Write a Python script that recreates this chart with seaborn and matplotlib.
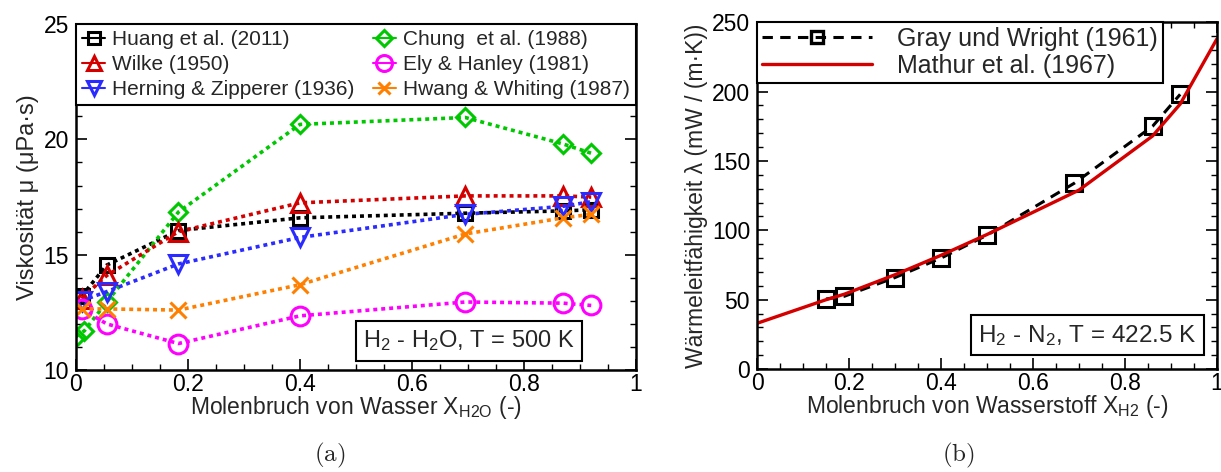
import numpy as np
import pandas as pd
import seaborn as sns
import matplotlib
matplotlib.use("Agg")
import matplotlib.pyplot as plt
from matplotlib.ticker import MultipleLocator
from matplotlib.lines import Line2D

# ---- viscosity of H2 - H2O at 500 K ----
x_h2o = [0.01, 0.055, 0.183, 0.4, 0.695, 0.87, 0.92]
mu_huang = [13.2, 14.55, 16.05, 16.6, 16.8, 16.9, 16.95]
mu_wilke = [13.1, 14.1, 16.0, 17.25, 17.55, 17.55, 17.5]
mu_herning = [13.0, 13.4, 14.6, 15.75, 16.75, 17.1, 17.3]
x_chung = [0.0, 0.015, 0.055, 0.183, 0.4, 0.695, 0.87, 0.92]
mu_chung = [11.45, 11.7, 12.95, 16.85, 20.65, 20.95, 19.8, 19.4]
mu_ely = [12.65, 12.0, 11.15, 12.35, 12.95, 12.9, 12.8]
mu_hwang = [12.65, 12.65, 12.6, 13.7, 15.9, 16.6, 16.75]

# ---- thermal conductivity of H2 - N2 at 422.5 K ----
x_gray = [0.15, 0.19, 0.3, 0.4, 0.5, 0.69, 0.86, 0.92]
lam_gray = [50.5, 52.5, 66.0, 80.0, 96.5, 134.0, 175.0, 198.0]
x_mathur = [0.0, 0.15, 0.19, 0.3, 0.4, 0.5, 0.7, 0.86, 0.92, 1.0]
lam_mathur = [33.0, 50.0, 54.0, 68.0, 82.0, 97.0, 129.0, 168.0, 191.0, 238.0]

sns.set_theme(style="ticks")
plt.rcParams["font.family"] = ["Liberation Sans", "DejaVu Sans"]
plt.rcParams["mathtext.fontset"] = "custom"
plt.rcParams["mathtext.rm"] = "Liberation Sans"
plt.rcParams["mathtext.it"] = "Liberation Sans:italic"
plt.rcParams["axes.linewidth"] = 1.8
plt.rcParams["axes.edgecolor"] = "black"

LABEL_FS = 16.5
TICK_FS = 16.5
BOX_FS = 17

fig = plt.figure(figsize=(12.21, 4.72), dpi=100)
ax1 = fig.add_axes([0.0622, 0.216, 0.4587, 0.733])
ax2 = fig.add_axes([0.620, 0.218, 0.3767, 0.735])

dot = (0, (1.1, 1.1))
series = [
    ("Huang et al. (2011)", x_h2o, mu_huang, "black", "s", 10.5),
    ("Chung  et al. (1988)", x_chung, mu_chung, "#00c800", "D", 9.5),
    ("Wilke (1950)", x_h2o, mu_wilke, "#d40000", "^", 12.5),
    ("Herning & Zipperer (1936)", x_h2o, mu_herning, "#2b2bff", "v", 12.5),
    ("Ely & Hanley (1981)", x_h2o, mu_ely, "#ff00ff", "o", 13.5),
    ("Hwang & Whiting (1987)", x_h2o, mu_hwang, "#ff8000", "x", 11),
]
handles = {}
for label, xs, ys, col, mk, ms in series:
    df = pd.DataFrame({"x": xs, "y": ys})
    sns.lineplot(data=df, x="x", y="y", ax=ax1, sort=False, color=col,
                 linestyle=dot, linewidth=2.6, marker=mk, markersize=ms,
                 markerfacecolor="none", markeredgecolor=col,
                 markeredgewidth=2.2)
    handles[label] = Line2D([], [], color=col, linestyle="-", linewidth=1.5,
                            marker=mk, markersize=ms * 0.85,
                            markerfacecolor="none", markeredgecolor=col,
                            markeredgewidth=2.2)

order = ["Huang et al. (2011)", "Wilke (1950)", "Herning & Zipperer (1936)",
         "Chung  et al. (1988)", "Ely & Hanley (1981)", "Hwang & Whiting (1987)"]
leg1 = ax1.legend([handles[k] for k in order], order, ncol=2,
                  loc="upper left", bbox_to_anchor=(0, 0, 1, 1), mode="expand",
                  borderaxespad=0, fontsize=15, handlelength=1.1,
                  handletextpad=0.35, labelspacing=0.28, columnspacing=0.8,
                  fancybox=False, framealpha=1, edgecolor="black",
                  borderpad=0.3)
leg1.get_frame().set_linewidth(1.5)

ax1.set_xlim(0, 1)
ax1.set_ylim(10, 25)
ax1.xaxis.set_minor_locator(MultipleLocator(0.05))
ax1.yaxis.set_major_locator(MultipleLocator(5))
ax1.yaxis.set_minor_locator(MultipleLocator(1))
ax1.set_xticks([0, 0.2, 0.4, 0.6, 0.8, 1.0])
ax1.set_xticklabels(["0", "0.2", "0.4", "0.6", "0.8", "1"])
ax1.set_xlabel(r"Molenbruch von Wasser X$_{\mathrm{H2O}}$ (-)", fontsize=LABEL_FS,
               labelpad=-1)
ax1.set_ylabel("Viskosität μ (μPa·s)", fontsize=LABEL_FS + 0.5, labelpad=3)
ax1.text(0.702, 0.084, r"H$_2$ - H$_2$O, T = 500 K", transform=ax1.transAxes,
         ha="center", va="center", fontsize=BOX_FS,
         bbox=dict(boxstyle="square,pad=0.3", fc="white", ec="black", lw=1.5))

# thermal conductivity panel
dash = (0, (3.4, 2.4))
df_g = pd.DataFrame({"x": x_gray, "y": lam_gray})
df_m = pd.DataFrame({"x": x_mathur, "y": lam_mathur})
sns.lineplot(data=df_g, x="x", y="y", ax=ax2, sort=False, color="black",
             linestyle=dash, linewidth=2.2, marker="s",
             markersize=11.5, markerfacecolor="none", markeredgecolor="black",
             markeredgewidth=2.2)
sns.lineplot(data=df_m, x="x", y="y", ax=ax2, sort=False, color="#d40000",
             linewidth=2.4)
h_gray = Line2D([], [], color="black", linestyle=dash, linewidth=2.2,
                marker="s", markersize=8, markerfacecolor="none",
                markeredgecolor="black", markeredgewidth=2.4)
h_math = Line2D([], [], color="#d40000", linewidth=2.4)
leg2 = ax2.legend([h_gray, h_math], ["Gray und Wright (1961)", "Mathur et al. (1967)"],
                  loc="upper left", borderaxespad=0, fontsize=18,
                  handlelength=4.4, handletextpad=1.0, labelspacing=0.1,
                  fancybox=False, framealpha=1, edgecolor="black",
                  borderpad=0.2)
leg2.get_frame().set_linewidth(1.5)

ax2.set_xlim(0, 1)
ax2.set_ylim(0, 250)
ax2.set_xticks([0, 0.2, 0.4, 0.6, 0.8, 1.0])
ax2.set_xticklabels(["0", "0.2", "0.4", "0.6", "0.8", "1"])
ax2.xaxis.set_minor_locator(MultipleLocator(0.05))
ax2.yaxis.set_major_locator(MultipleLocator(50))
ax2.yaxis.set_minor_locator(MultipleLocator(10))
ax2.set_xlabel(r"Molenbruch von Wasserstoff X$_{\mathrm{H2}}$ (-)", fontsize=LABEL_FS,
               labelpad=-1)
ax2.set_ylabel("Wärmeleitfähigkeit λ (mW / (m·K))", fontsize=LABEL_FS, labelpad=3)
ax2.text(0.718, 0.098, r"H$_2$ - N$_2$, T = 422.5 K", transform=ax2.transAxes,
         ha="center", va="center", fontsize=BOX_FS + 0.5,
         bbox=dict(boxstyle="square,pad=0.3", fc="white", ec="black", lw=1.5))

for ax in (ax1, ax2):
    ax.tick_params(which="both", direction="in", top=True, right=True,
                   labelsize=TICK_FS, pad=2, colors="black")
    ax.tick_params(axis="y", which="major", pad=5)
    ax.tick_params(which="major", length=8, width=1.2)
    ax.tick_params(which="minor", length=4.5, width=1.0)
    for s in ax.spines.values():
        s.set_visible(True)
        s.set_color("black")

fig.text(0.270, 0.036, r"$\mathrm{(a)}$", math_fontfamily="cm", fontsize=18,
         ha="center", va="center")
fig.text(0.785, 0.036, r"$\mathrm{(b)}$", math_fontfamily="cm", fontsize=18,
         ha="center", va="center")

fig.savefig("out.png", dpi=100)
